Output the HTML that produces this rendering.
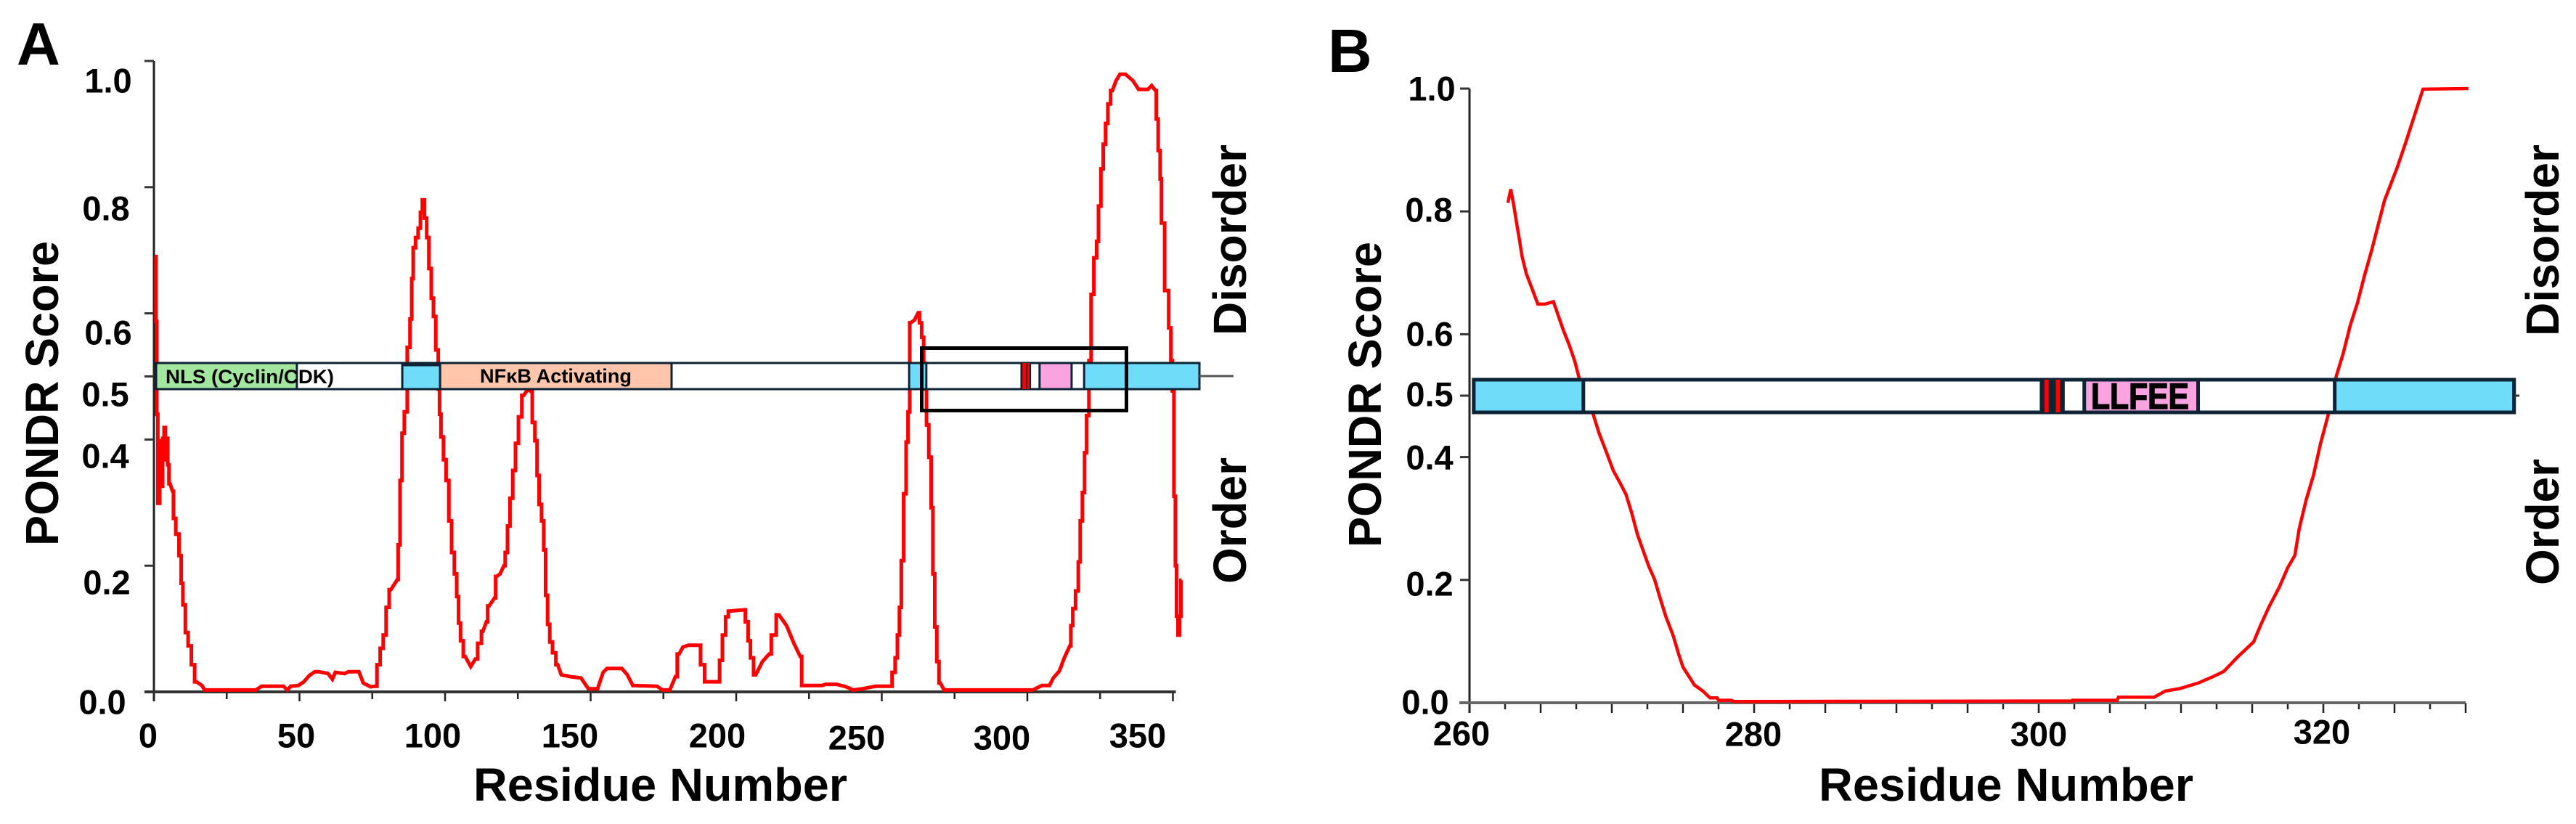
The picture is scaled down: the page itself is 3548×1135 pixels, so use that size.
<!DOCTYPE html>
<html lang="en">
<head>
<meta charset="utf-8">
<title>PONDR disorder score plots</title>
<style>
html,body{margin:0;padding:0;background:#fff;width:3548px;height:1135px;overflow:hidden}
svg{display:block}
text{font-family:"Liberation Sans",sans-serif;font-weight:bold;fill:#000}
</style>
</head>
<body>
<svg id="figure" xmlns="http://www.w3.org/2000/svg" width="3548" height="1135" viewBox="0 0 3548 1135">
<rect x="0" y="0" width="3548" height="1135" fill="#fff"/>
<g id="panelA"></g>
<g id="panelB"></g>
<text x="23" y="89" font-size="83">A</text>
<text x="1829" y="99" font-size="84">B</text>
<text transform="translate(80,752) rotate(-90)" font-size="64" textLength="420" lengthAdjust="spacingAndGlyphs">PONDR Score</text>
<text transform="translate(1902,754) rotate(-90)" font-size="64" textLength="421" lengthAdjust="spacingAndGlyphs">PONDR Score</text>
<text x="652" y="1103" font-size="64" textLength="515" lengthAdjust="spacingAndGlyphs">Residue Number</text>
<text x="2505" y="1103" font-size="64" textLength="516" lengthAdjust="spacingAndGlyphs">Residue Number</text>
<text transform="translate(1716,462) rotate(-90)" font-size="64" textLength="263" lengthAdjust="spacingAndGlyphs">Disorder</text>
<text transform="translate(1716,804) rotate(-90)" font-size="64" textLength="174" lengthAdjust="spacingAndGlyphs">Order</text>
<text transform="translate(3524,463) rotate(-90)" font-size="64" textLength="264" lengthAdjust="spacingAndGlyphs">Disorder</text>
<text transform="translate(3524,806) rotate(-90)" font-size="64" textLength="174" lengthAdjust="spacingAndGlyphs">Order</text>
</svg>
<script>
const yTicks = [0, 0.2, 0.4, 0.5, 0.6, 0.8, 1.0];
const yTickLabels = ['0.0', '0.2', '0.4', '0.5', '0.6', '0.8', '1.0'];

const xTicksA = [0,25,50,75,100,125,150,175,200,225,250,275,300,325,350];
const xTickLabelsA = [0,50,100,150,200,250,300,350];
const residuesA = [0.4,1,1,1.7,2.3,2.8,3.2,3.8,4.1,4.7,4.8,5.5,6.4,7,8,9.2,9.5,10.4,11.2,12.3,13.4,14.6,16.5,17.4,35,37,44.5,45.8,47,49.6,51.5,53.4,55.3,56.6,59.8,61.3,62.3,65.5,66.8,70.4,71.9,74.4,76,77.2,78.2,79.3,80.2,81.4,83.6,84.2,84.9,85.5,86.5,87.5,88.4,88.7,89.4,90.3,91.2,91.9,92.5,93.3,94.1,94.8,95.7,96.3,97.3,98,98.2,99,99.9,100.8,101.8,102.7,103.7,104.3,105,105.6,106.9,108.8,110.4,112,113,114.2,115.1,117,117.7,118.9,120.2,121.1,121.8,122.8,123.7,124.7,125.7,127,128.5,129.5,130.4,131.3,131.9,132.7,133.6,134.2,134.9,135.5,136.4,137.4,138.7,139.9,143.1,146.7,147.3,149.2,152.4,154.3,155.6,160.7,162.6,164.5,172.8,174.7,177.2,179.1,180.4,181.7,183.6,187.1,188.4,189.9,193.8,194.8,195.7,197,197.6,202.7,203.6,204.6,205.2,206.7,209,211.3,212.8,214.7,217.3,219.8,222,223,229.4,230.7,234.5,237.7,240.2,243.4,247.8,252.9,254.2,255,255.7,256.4,257,258,258.7,259.3,259.9,261.2,262.5,263.4,264,264.8,265,265.7,266.6,267.3,267.8,268.6,269.2,270.1,271.4,301.9,305,307.6,308.9,311,312.7,314.6,315.3,315.9,317.2,317.8,318.5,319.3,320,320.7,321.6,322.2,323.5,324.1,324.8,325.7,326.4,327.3,328,329.2,330.5,331.8,333.7,336.2,338.2,341.4,342.7,344,344.6,345.3,345.9,346.2,348.1,349,349.6,350,350.7,351,351.5,352,352.5,353];
const scoresA = [0.69,0.587,0.44,0.299,0.398,0.326,0.402,0.419,0.368,0.402,0.36,0.33,0.318,0.275,0.25,0.216,0.172,0.138,0.094,0.073,0.043,0.016,0.01,0.003,0.003,0.009,0.009,0.003,0.009,0.01,0.016,0.026,0.032,0.032,0.029,0.02,0.031,0.029,0.032,0.032,0.014,0.008,0.009,0.043,0.069,0.09,0.134,0.162,0.178,0.233,0.335,0.41,0.444,0.546,0.591,0.655,0.704,0.72,0.735,0.76,0.78,0.751,0.72,0.671,0.624,0.595,0.542,0.48,0.44,0.404,0.368,0.335,0.271,0.221,0.187,0.151,0.109,0.081,0.056,0.04,0.052,0.077,0.096,0.111,0.136,0.149,0.183,0.187,0.2,0.221,0.263,0.307,0.351,0.394,0.436,0.47,0.48,0.476,0.427,0.398,0.343,0.297,0.271,0.225,0.153,0.107,0.079,0.062,0.043,0.027,0.024,0.022,0.018,0.005,0.005,0.031,0.037,0.037,0.027,0.01,0.009,0.003,0.003,0.024,0.06,0.071,0.074,0.074,0.043,0.016,0.016,0.05,0.09,0.119,0.128,0.13,0.111,0.081,0.054,0.027,0.048,0.06,0.09,0.122,0.105,0.077,0.056,0.01,0.01,0.012,0.012,0.008,0.003,0.005,0.009,0.009,0.031,0.054,0.09,0.134,0.208,0.314,0.396,0.444,0.585,0.589,0.601,0.585,0.562,0.521,0.48,0.423,0.372,0.292,0.187,0.103,0.048,0.014,0.003,0.003,0.01,0.01,0.022,0.033,0.054,0.073,0.105,0.132,0.16,0.206,0.271,0.316,0.379,0.438,0.525,0.63,0.688,0.714,0.77,0.829,0.868,0.901,0.932,0.953,0.969,0.979,0.979,0.969,0.955,0.955,0.961,0.953,0.908,0.858,0.813,0.743,0.636,0.577,0.525,0.477,0.31,0.2,0.12,0.09,0.12,0.177];

const domainStartsA = [0.75,85.3,98.3,259.4,298,298.3,300,304.2,319.5];
const domainEndsA = [49.1,98.3,177.8,265.3,300.9,299.5,300.8,315.2,359.1];
const domainKindsA = ['green','blue','peach','blue','dark','red','red','pink','blue'];

const xTicksB = [260,262.5,265,267.5,270,272.5,275,277.5,280,282.5,285,287.5,290,292.5,295,297.5,300,302.5,305,307.5,310,312.5,315,317.5,320,322.5,325,327.5,330];
const xTickLabelsB = [260,280,300,320];
const residuesB = [262.7,262.9,263.1,263.3,263.5,263.7,264,264.4,264.8,265.3,265.9,266.2,266.6,267,267.4,267.7,268.7,269.1,269.6,270.1,270.6,271,271.4,271.8,272.2,272.6,273,273.4,273.8,274.3,274.7,275,275.5,275.8,276.4,276.9,277.4,277.5,278.4,278.6,302.4,302.4,305.5,305.6,308.1,308.9,309.9,311.2,312.2,313,314,315.1,315.6,316.2,316.9,317.5,318,318.3,318.8,319.3,319.8,320.3,320.9,321.4,321.9,322.4,322.9,323.4,323.9,324.3,325.2,325.8,326.5,327,330.2];
const scoresB = [0.814,0.836,0.811,0.782,0.755,0.726,0.698,0.674,0.649,0.649,0.653,0.633,0.606,0.583,0.556,0.529,0.469,0.439,0.409,0.378,0.357,0.339,0.309,0.274,0.248,0.222,0.201,0.17,0.14,0.11,0.079,0.058,0.04,0.029,0.019,0.008,0.008,0.004,0.004,0.002,0.003,0.004,0.004,0.009,0.009,0.019,0.023,0.032,0.042,0.051,0.075,0.099,0.127,0.157,0.188,0.22,0.24,0.283,0.331,0.37,0.422,0.465,0.531,0.569,0.615,0.651,0.696,0.737,0.782,0.818,0.872,0.913,0.963,0.999,1.0];

const domainStartsB = [260.3,300.2,300.4,301.2,303.2,320.8];
const domainEndsB = [268,301.7,300.7,301.5,311.2,333.4];
const domainKindsB = ['blue','dark','red','red','pink','blue'];

const fills = {green:'#A2E6A0', blue:'#6FDCF9', peach:'#FFC6AB', pink:'#F9A3E0', red:'#FF0000', dark:'#0E2436'};
const NS = 'http://www.w3.org/2000/svg';

const layoutA = {
  x0:212, xk:4.01, xBase:0, y0:953, yk:869, yTickLeft:199, majorEnd:966, minorEnd:963, axisColor:'#333', axisWidth:4,
  axisLeft:199, xMax:351, barTop:500, barBottom:536, barStroke:3, lineWidth:5, stepped:true,
  yLabel:{'1.0':[149,111],'0.8':[146,287],'0.6':[149,458],'0.5':[145,543],'0.4':[145,628],'0.2':[147,802],'0.0':[141,967]},
  xLabel:{0:[204,1013],50:[408,1013],100:[596,1013],150:[785,1013],200:[988,1013],250:[1180,1016],300:[1380,1016],350:[1567,1013]}
};
const layoutB = {
  x0:2024, xk:19.6, xBase:260, y0:968, yk:846, yTickLeft:2011, majorEnd:982, minorEnd:977, axisColor:'#666', axisWidth:4,
  axisLeft:2010, xMax:330, barTop:523, barBottom:568, barStroke:5, lineWidth:4.5, stepped:false,
  yLabel:{'1.0':[1972,122],'0.8':[1968,289],'0.6':[1969,460],'0.5':[1969,543],'0.4':[1969,630],'0.2':[1969,804],'0.0':[1963,967]},
  xLabel:{260:[2013,1010],280:[2415,1011],300:[2808,1011],320:[3198,1008]}
};

function svgEl(tag, attrs, parent) {
  const el = document.createElementNS(NS, tag);
  for (const k in attrs) el.setAttribute(k, attrs[k]);
  parent.appendChild(el);
  return el;
}

function drawAxes(g, L, xTicks, xLabels) {
  const xs = v => L.x0 + (v - L.xBase) * L.xk;
  const ys = v => L.y0 - v * L.yk;

  const yAxis = svgEl('line', {x1:L.x0, x2:L.x0, y1:ys(1), y2:L.majorEnd, stroke:'#222', 'stroke-width':3}, g);
  
  

  yTicks.forEach((v, i) => {
    const tick = svgEl('line', {x1:L.yTickLeft, x2:L.x0, y1:ys(v), y2:ys(v), stroke:'#333', 'stroke-width':3}, g);
    
    
    const pos = L.yLabel[yTickLabels[i]];
    const label = svgEl('text', {x:pos[0], y:pos[1] + 16.5, 'font-size':47, 'text-anchor':'middle'}, g);
    label.textContent = yTickLabels[i];
    
    
  });

  xTicks.forEach(v => {
    const isMajor = (v - L.xBase) % (L.xBase ? 5 : 50) === 0;
    const tick = svgEl('line', {x1:xs(v), x2:xs(v), y1:L.y0, y2:isMajor ? L.majorEnd : L.minorEnd, stroke:'#222', 'stroke-width':2.5}, g);
    
    
  });

  xLabels.forEach(v => {
    const pos = L.xLabel[v];
    const label = svgEl('text', {x:pos[0], y:pos[1] + 16.5, 'font-size':47, 'text-anchor':'middle'}, g);
    label.textContent = String(v);
    
    
  });

  const xAxis = svgEl('line', {x1:L.axisLeft, x2:xs(L.xMax), y1:L.y0, y2:L.y0, stroke:L.axisColor, 'stroke-width':L.axisWidth}, g);
  
  
}

function drawSeries(g, L, residues, scores) {
  const xs = v => L.x0 + (v - L.xBase) * L.xk;
  const ys = v => L.y0 - v * L.yk;
  let d = '';
  residues.forEach((r, i) => {
    const px = xs(r);
    const py = ys(scores[i]);
    if (i === 0) {
      d += 'M' + px.toFixed(1) + ' ' + py.toFixed(1);
      return;
    }
    const qx = xs(residues[i - 1]);
    const qy = ys(scores[i - 1]);
    if (L.stepped && Math.abs(py - qy) > 3 * Math.abs(px - qx)) {
      const mid = (px + qx) / 2;
      d += 'H' + mid.toFixed(1) + 'V' + py.toFixed(1) + 'H' + px.toFixed(1);
    } else {
      d += 'L' + px.toFixed(1) + ' ' + py.toFixed(1);
    }
  });
  const line = svgEl('path', {d:d, fill:'none', stroke:'#FF0000', 'stroke-width':L.lineWidth, 'stroke-linejoin':'miter', 'stroke-miterlimit':2}, g);
  
  
}

function drawDomains(g, L, starts, ends, kinds) {
  const xs = v => L.x0 + (v - L.xBase) * L.xk;
  const first = xs(starts[0]);
  const last = xs(ends[ends.length - 1]);
  const body = svgEl('rect', {x:first, y:L.barTop, width:last - first, height:L.barBottom - L.barTop, fill:'#fff', stroke:fills.dark, 'stroke-width':L.barStroke}, g);
  
  
  starts.forEach((s, i) => {
    const isStripe = kinds[i] === 'red';
    const seg = svgEl('rect', {x:xs(s), y:L.barTop, width:xs(ends[i]) - xs(s), height:L.barBottom - L.barTop, fill:fills[kinds[i]], stroke:isStripe ? 'none' : fills.dark, 'stroke-width':L.barStroke}, g);
    
    
  });
}

const gA = document.getElementById('panelA');
const gB = document.getElementById('panelB');

drawAxes(gA, layoutA, xTicksA, xTickLabelsA);
drawSeries(gA, layoutA, residuesA, scoresA);
drawDomains(gA, layoutA, domainStartsA, domainEndsA, domainKindsA);

const insetLeft = layoutA.x0 + domainStartsA[1] * layoutA.xk;
const insetWidth = (domainEndsA[1] - domainStartsA[1]) * layoutA.xk;
const blueInset = svgEl('rect', {x:insetLeft, y:501.5, width:insetWidth, height:3, fill:'#0E2436'}, gA);



const stubA = svgEl('line', {x1:1652, x2:1699, y1:518, y2:518, stroke:'#555', 'stroke-width':3}, gA);



const nlsLabel = svgEl('text', {x:228, y:528, 'font-size':27, textLength:232, lengthAdjust:'spacingAndGlyphs'}, gA);
nlsLabel.textContent = 'NLS (Cyclin/CDK)';



const nfkbLabel = svgEl('text', {x:661, y:527, 'font-size':27, textLength:209, lengthAdjust:'spacingAndGlyphs'}, gA);
nfkbLabel.textContent = 'NFκB Activating';



const zoomBox = svgEl('rect', {x:1269.5, y:479.5, width:282, height:86, fill:'none', stroke:'#000', 'stroke-width':5}, gA);



drawAxes(gB, layoutB, xTicksB, xTickLabelsB);
drawSeries(gB, layoutB, residuesB, scoresB);
drawDomains(gB, layoutB, domainStartsB, domainEndsB, domainKindsB);

const stubB = svgEl('line', {x1:3463, x2:3470, y1:545, y2:545, stroke:'#333', 'stroke-width':3}, gB);



const llfeeLabel = svgEl('text', {x:2880, y:563, 'font-size':50, textLength:135, lengthAdjust:'spacingAndGlyphs', stroke:'#000', 'stroke-width':1.5}, gB);
llfeeLabel.textContent = 'LLFEE';


</script>
</body>
</html>
